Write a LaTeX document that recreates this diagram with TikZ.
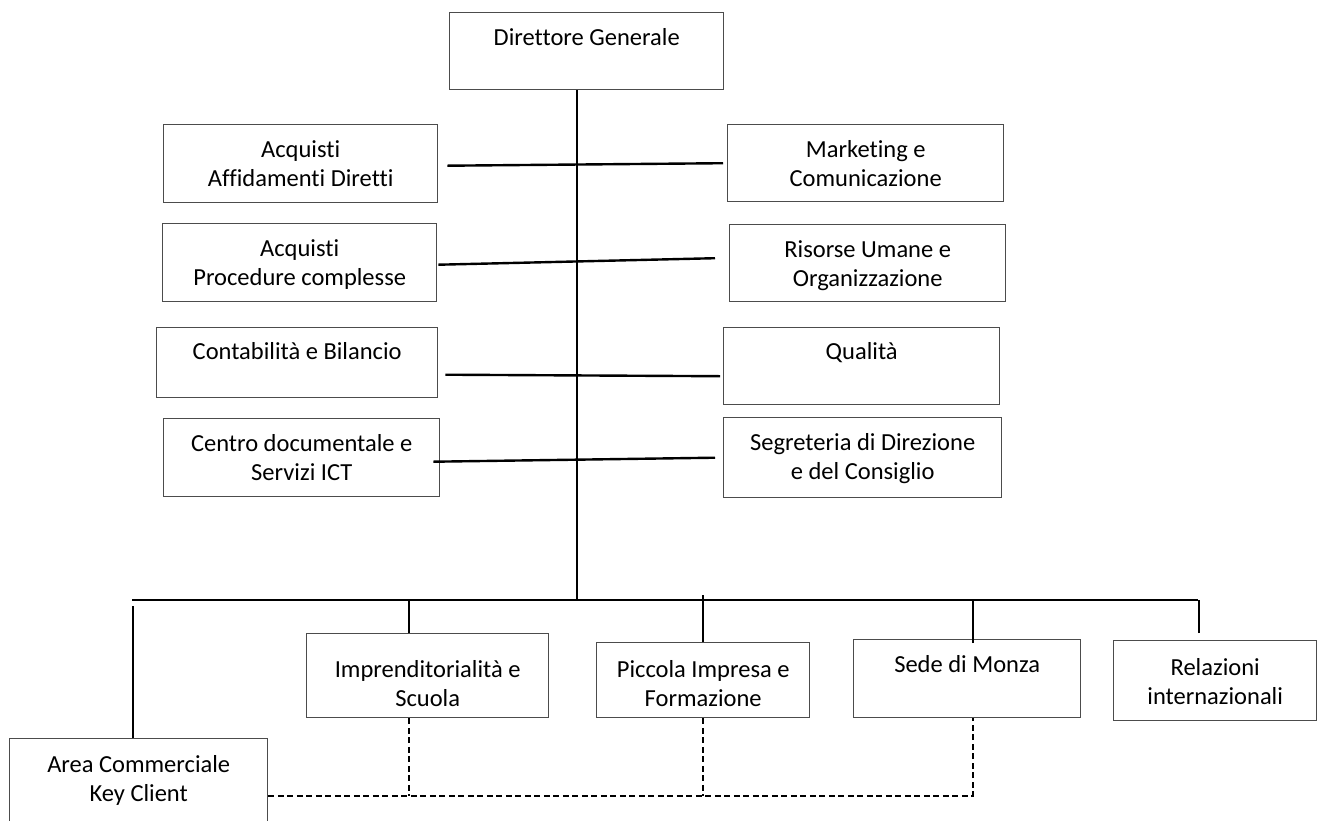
\documentclass[tikz,border=0pt]{standalone}
\usepackage{fontspec}
\setmainfont{Carlito}[Ligatures={NoCommon,NoContextual}]
\usetikzlibrary{positioning}

\tikzset{
  unit/.style={draw=black!70, line width=1.4pt, anchor=north west, align=center,
    inner sep=0pt, text height=62pt, font=\fontsize{24.5}{29}\selectfont},
  link/.style={line width=2.4pt},
  dotlink/.style={line width=2pt, dash pattern=on 6pt off 3.5pt}
}

\begin{document}
\begin{tikzpicture}[x=1pt,y=-1pt]
        \useasboundingbox (0,0) rectangle (1318,820);
        \clip (0,0) rectangle (1318,820);
        \node[unit, minimum width=274pt, text depth=15pt] (dg) at (449,12) {Direttore Generale\\~};
        \node[unit, minimum width=274pt, text depth=16pt] (acqad) at (163,124) {Acquisti\\Affidamenti Diretti};
        \node[unit, minimum width=274pt, text depth=16pt] (acqpc) at (162,223) {Acquisti\\Procedure complesse};
        \node[unit, minimum width=281pt, text depth=9pt, text height=61pt] (conta) at (156,327) {Contabilità e Bilancio\\~};
        \node[unit, minimum width=276pt, text depth=16pt] (centro) at (163,418) {Centro documentale e\\Servizi ICT};
        \node[unit, minimum width=276pt, text depth=15pt] (mark) at (727,124) {Marketing e\\Comunicazione};
        \node[unit, minimum width=276pt, text depth=15pt] (risorse) at (729,224) {Risorse Umane e\\Organizzazione};
        \node[unit, minimum width=276pt, text depth=16pt, text height=61pt] (qual) at (723,327) {Qualità\\~};
        \node[unit, minimum width=278pt, text depth=18pt] (segr) at (723,417) {Segreteria di Direzione\\e del Consiglio};
        \node[unit, minimum width=258pt, text depth=29pt, text height=63pt] (area) at (9,738) {Area Commerciale\\Key Client};
        \node[unit, minimum width=242pt, text depth=11pt, text height=73pt] (impr) at (306,633) {Imprenditorialità e\\Scuola};
        \node[unit, minimum width=213pt, text depth=11pt, text height=64pt] (picc) at (596,642) {Piccola Impresa e\\Formazione};
        \node[unit, minimum width=227pt, text depth=16pt] (sede) at (853,639) {Sede di Monza\\~};
        \node[unit, minimum width=203pt, text depth=16pt, text height=64pt] (rel) at (1113,640) {Relazioni\\internazionali};
        \coordinate (busL) at (132,600);
        \coordinate (busR) at (1198,600);
        \coordinate (kc) at ([yshift=-11pt]area.east);
        \draw[link] ([xshift=-10pt]dg.south) -- ([xshift=-10pt]dg.south |- busL);
        \draw[link] ([shift={(9pt,-2pt)}]acqad.east) -- ([xshift=-4pt]mark.west);
        \draw[link] ([shift={(1pt,-2pt)}]acqpc.east) -- ([shift={(-14pt,5pt)}]risorse.west);
        \draw[link] ([shift={(7pt,-12pt)}]conta.east) -- ([shift={(-3pt,-10pt)}]qual.west);
        \draw[link] ([shift={(-7pt,-4pt)}]centro.east) -- ([xshift=-8pt]segr.west);
        \draw[link] (busL) -- (busR);
        \draw[link] ([xshift=-6pt]area.north) -- ([xshift=-6pt,yshift=-6pt]area.north |- busL);
        \draw[link] ([xshift=-19pt]impr.north) -- ([xshift=-19pt]impr.north |- busL);
        \draw[link] (picc.north) -- ([yshift=5pt]picc.north |- busL);
        \draw[link] ([xshift=5.5pt,yshift=-4pt]sede.north) -- ([xshift=5.5pt]sede.north |- busL);
        \draw[link] ([xshift=-16.5pt,yshift=7pt]rel.north) -- ([xshift=-16.5pt]rel.north |- busL);
        \draw[dotlink] (kc) -| ([xshift=5.5pt]sede.south);
        \draw[dotlink] ([xshift=-19pt]impr.south) -- ([xshift=-19pt]impr.south |- kc);
        \draw[dotlink] (picc.south) -- (picc.south |- kc);
      \end{tikzpicture}
\end{document}
